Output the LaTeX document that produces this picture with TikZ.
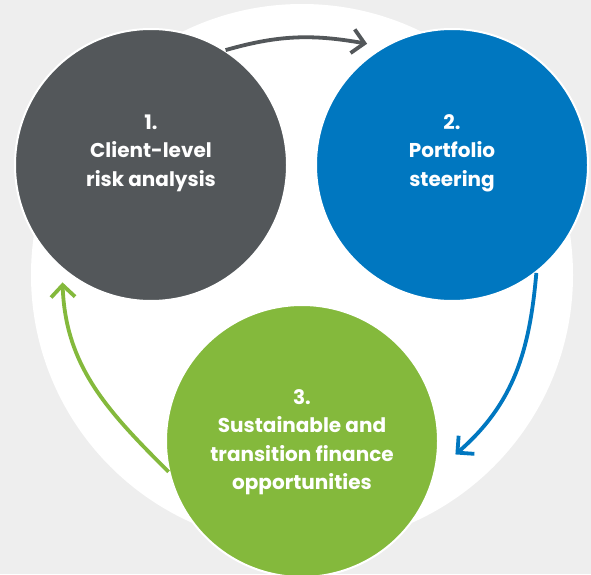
\documentclass[tikz,border=0pt]{standalone}
\usepackage{fontspec}
\setmainfont{Poppins}
\usetikzlibrary{arrows.meta,calc}
\definecolor{bggray}{HTML}{EEEEEE}
\definecolor{darkc}{HTML}{53575A}
\definecolor{bluec}{HTML}{0077C0}
\definecolor{greenc}{HTML}{84B93C}
\tikzset{
  x=1pt,y=1pt,
  stepcircle/.style={circle,draw=white,line width=2pt,minimum size=272pt,inner sep=0pt},
  steptext/.style={text=white,align=center,font=\fontsize{20}{28.5}\selectfont\bfseries},
  cyclearrow/.style={line width=3.8pt,-{Straight Barb[length=12pt,width=24pt]}},
}
\begin{document}
\begin{tikzpicture}
\useasboundingbox (0,0) rectangle (591,574);
\clip (0,0) rectangle (591,574);
\fill[bggray] (0,0) rectangle (591,574);
\fill[white] (302,299) circle (271);
\node[stepcircle,fill=darkc] (c1) at (151,409) {};
\node[stepcircle,fill=bluec] (c2) at (452,409) {};
\node[stepcircle,fill=greenc] (c3) at (302,133) {};
\coordinate (t1) at ($(c2.center)+(125:148)$);
\coordinate (t2) at ($(c3.center)+(-5:154)$);
\coordinate (t3) at ($(c1.center)+(233:147)$);
\node[steptext] (l1) at ([yshift=12]c1.center) {1.\\Client-level\\risk analysis};
\node[steptext] (l2) at ([yshift=12]c2.center) {2.\\Portfolio\\steering};
\node[steptext] (l3) at ([yshift=-1]c3.center) {3.\\Sustainable and\\transition finance\\opportunities};
\draw[cyclearrow,darkc] (c1.57) to[out=16,in=170] (t1);
\draw[cyclearrow,bluec] (c2.-52) to[out=-95,in=41] (t2);
\draw[cyclearrow,greenc] (c3.193) to[out=135,in=-88] (t3);
\end{tikzpicture}
\end{document}
